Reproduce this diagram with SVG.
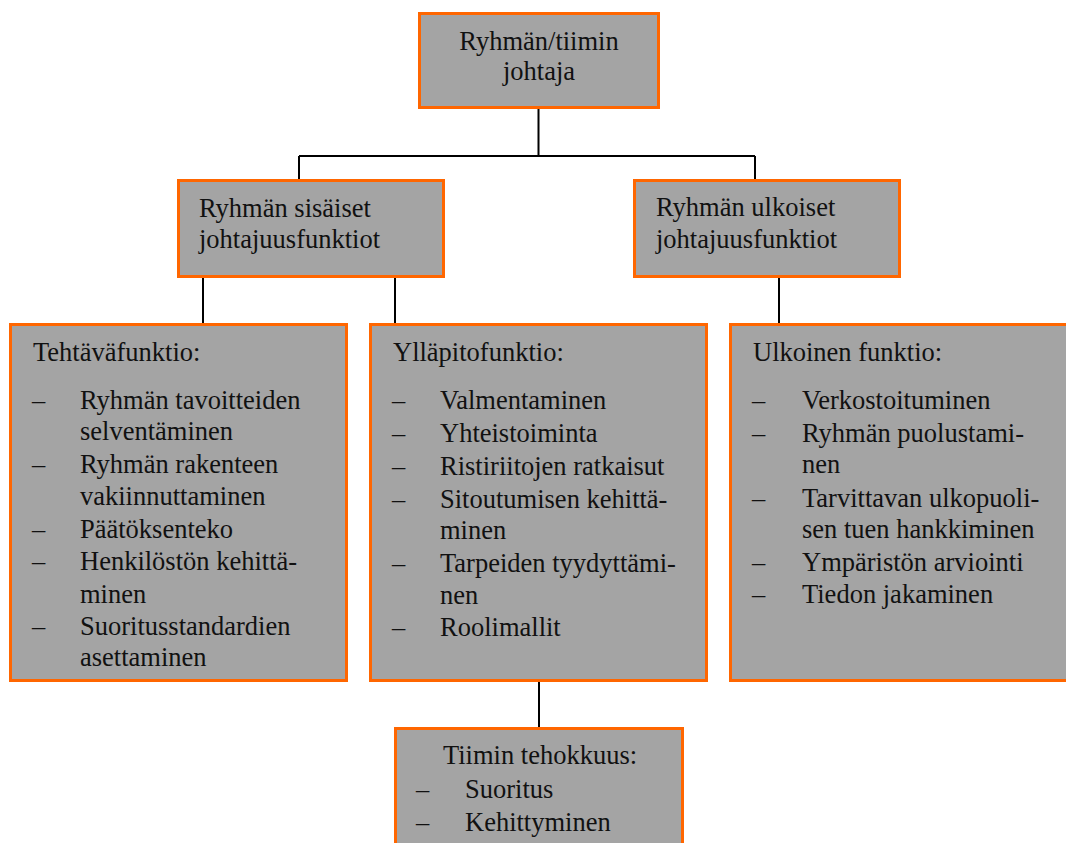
<svg xmlns="http://www.w3.org/2000/svg" width="1066" height="843" viewBox="0 0 1066 843" font-family="'Liberation Serif', Tinos, 'DejaVu Serif', serif">
  <style>
    .box { fill: #a4a4a4; stroke: #ff6600; stroke-width: 3; }
    .wire { fill: none; stroke: #000; stroke-width: 2; }
    text { font-family: 'Liberation Serif', Tinos, 'DejaVu Serif', serif; font-size: 26.5px; fill: #111; }
    .mid { text-anchor: middle; }
  </style>
  <rect width="1066" height="843" fill="#fff"/>

  <!-- connectors -->
  <g id="connectors">
    <path class="wire" d="M538.5 109 V156 M299 156 H755 M299 156 V179 M755 156 V179"/>
    <path class="wire" d="M203 278 V323 M395 278 V323"/>
    <path class="wire" d="M779 278 V323"/>
    <path class="wire" d="M539 682 V727"/>
  </g>

  <!-- leader -->
  <g id="leader">
    <rect class="box" x="419.5" y="13.5" width="239" height="94"/>
    <text class="mid" x="539" y="50">Ryhmän/tiimin</text>
    <text class="mid" x="539" y="80">johtaja</text>
  </g>

  <!-- internal leadership functions -->
  <g id="internal">
    <rect class="box" x="178.5" y="180.5" width="265" height="96"/>
    <text x="199" y="217">Ryhmän sisäiset</text>
    <text x="199" y="248">johtajuusfunktiot</text>
  </g>

  <!-- external leadership functions -->
  <g id="external">
    <rect class="box" x="634.5" y="180.5" width="265" height="96"/>
    <text x="656" y="216">Ryhmän ulkoiset</text>
    <text x="656" y="248">johtajuusfunktiot</text>
  </g>

  <!-- task function -->
  <g id="task">
    <rect class="box" x="10.5" y="324.5" width="336" height="356"/>
    <text x="33" y="361">Tehtäväfunktio:</text>
    <text x="32" y="409">–</text><text x="80" y="409">Ryhmän tavoitteiden</text>
    <text x="80" y="440">selventäminen</text>
    <text x="32" y="473">–</text><text x="80" y="473">Ryhmän rakenteen</text>
    <text x="80" y="505">vakiinnuttaminen</text>
    <text x="32" y="538">–</text><text x="80" y="538">Päätöksenteko</text>
    <text x="32" y="570">–</text><text x="80" y="570">Henkilöstön kehittä-</text>
    <text x="80" y="603">minen</text>
    <text x="32" y="635">–</text><text x="80" y="635">Suoritusstandardien</text>
    <text x="80" y="666">asettaminen</text>
  </g>

  <!-- maintenance function -->
  <g id="maintenance">
    <rect class="box" x="370.5" y="324.5" width="336" height="356"/>
    <text x="393" y="361">Ylläpitofunktio:</text>
    <text x="392" y="409">–</text><text x="440" y="409">Valmentaminen</text>
    <text x="392" y="442">–</text><text x="440" y="442">Yhteistoiminta</text>
    <text x="392" y="475">–</text><text x="440" y="475">Ristiriitojen ratkaisut</text>
    <text x="392" y="508">–</text><text x="440" y="508">Sitoutumisen kehittä-</text>
    <text x="440" y="539">minen</text>
    <text x="392" y="572">–</text><text x="440" y="572">Tarpeiden tyydyttämi-</text>
    <text x="440" y="604">nen</text>
    <text x="392" y="636">–</text><text x="440" y="636">Roolimallit</text>
  </g>

  <!-- external function -->
  <g id="outer">
    <rect class="box" x="730.5" y="324.5" width="345" height="356"/>
    <text x="753" y="361">Ulkoinen funktio:</text>
    <text x="752" y="409">–</text><text x="802" y="409">Verkostoituminen</text>
    <text x="752" y="442">–</text><text x="802" y="442">Ryhmän puolustami-</text>
    <text x="802" y="473">nen</text>
    <text x="752" y="507">–</text><text x="802" y="507">Tarvittavan ulkopuoli-</text>
    <text x="802" y="538">sen tuen hankkiminen</text>
    <text x="752" y="571">–</text><text x="802" y="571">Ympäristön arviointi</text>
    <text x="752" y="603">–</text><text x="802" y="603">Tiedon jakaminen</text>
  </g>

  <!-- team effectiveness -->
  <g id="effectiveness">
    <rect class="box" x="395.5" y="728.5" width="287" height="130"/>
    <text x="443" y="764">Tiimin tehokkuus:</text>
    <text x="416" y="798">–</text><text x="465" y="798">Suoritus</text>
    <text x="416" y="831">–</text><text x="465" y="831">Kehittyminen</text>
  </g>
</svg>
